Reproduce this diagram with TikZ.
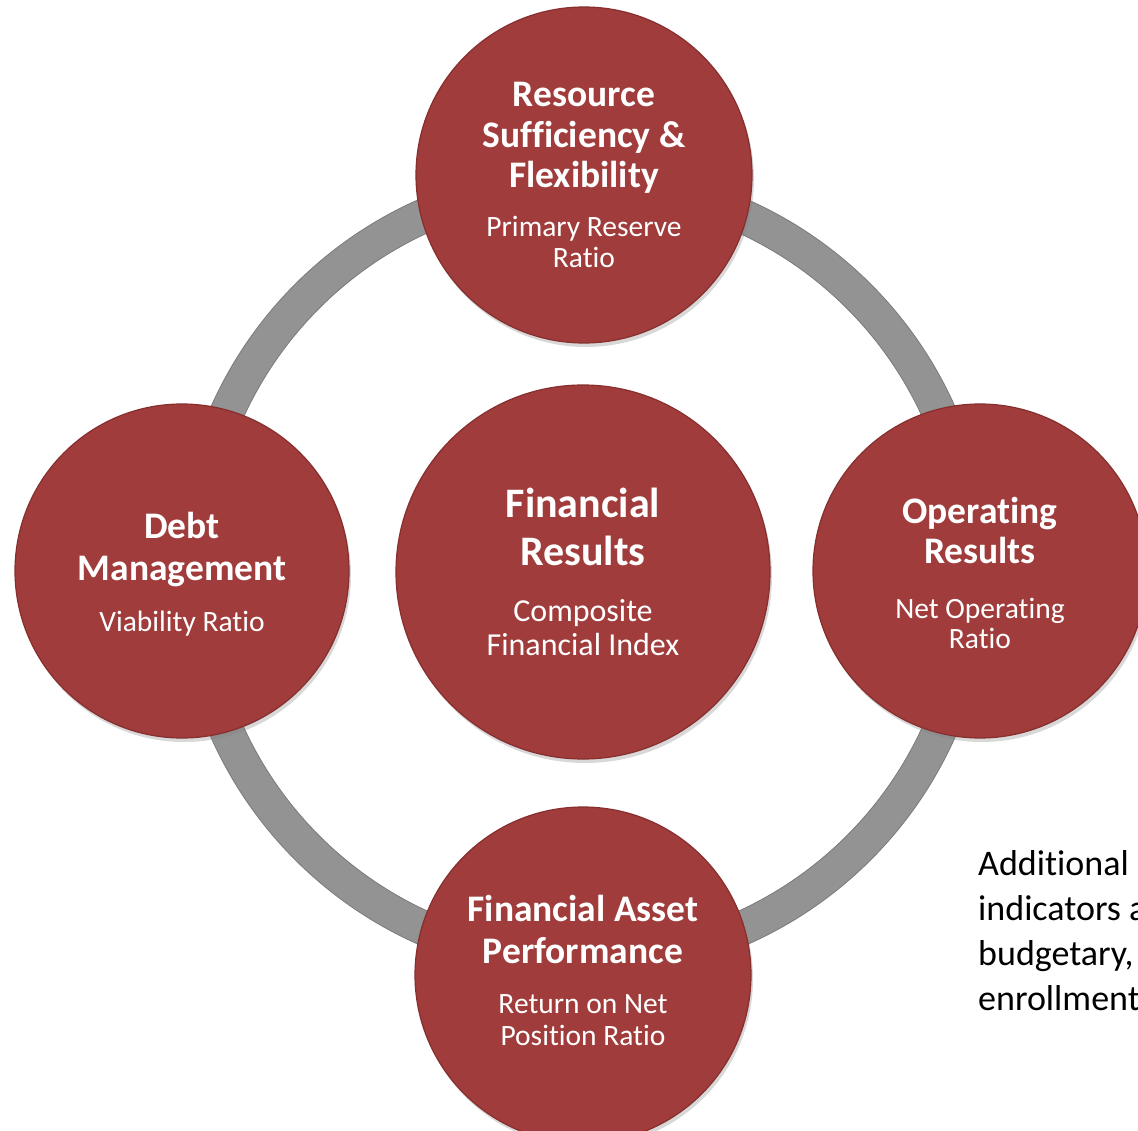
\documentclass[tikz,border=0pt]{standalone}
\usepackage{fontspec}
\setmainfont{Carlito}[Ligatures={CommonOff,RareOff,ContextualOff}]
\usetikzlibrary{shadows}
\definecolor{discfill}{HTML}{A03C3B}
\definecolor{discedge}{HTML}{862F2E}
\definecolor{ringfill}{HTML}{939393}
\definecolor{ringedge}{HTML}{7A7A7A}
\begin{document}
\begin{tikzpicture}[x=1pt,y=-1pt,
  disc/.style={circle, fill=discfill, draw=discedge, line width=1.2pt, inner sep=0pt, minimum size=#1,
    drop shadow={opacity=0.3, shadow xshift=2pt, shadow yshift=-4pt}},
  ttl/.style={anchor=base, inner sep=0pt, text=white, font=\bfseries\fontsize{37.5}{40}\selectfont},
  bigttl/.style={anchor=base, inner sep=0pt, text=white, font=\bfseries\fontsize{42}{48}\selectfont},
  sub/.style={anchor=base, inner sep=0pt, text=white, font=\fontsize{29.5}{32}\selectfont},
  bigsub/.style={anchor=base, inner sep=0pt, text=white, font=\fontsize{32}{34}\selectfont},
  note/.style={anchor=base west, inner sep=0pt, text=black, font=\fontsize{36}{45}\selectfont},
]
\useasboundingbox (0,0) rectangle (1138,1131);
\clip (0,0) rectangle (1138,1131);
\fill[white] (0,0) rectangle (1138,1131);

% ring
\coordinate (O) at (583,572);
\draw[ringfill, line width=34pt] (O) circle[radius=390];
\draw[ringedge, line width=0.8pt] (O) circle[radius=407];
\draw[ringedge, line width=0.8pt] (O) circle[radius=373];

% discs
\node[disc=336pt] (top) at (584,175) {};
\node[disc=334pt] (left) at (182,571) {};
\node[disc=334pt] (right) at (980,571) {};
\node[disc=336pt] (bottom) at (583,975) {};
\node[disc=374pt] (center) at (583,572) {};

% top
\node[ttl] (top-a) at (584,107) {Resource};
\node[ttl] (top-b) at (584,147.5) {Sufficiency \&};
\node[ttl] (top-c) at (584,188) {Flexibility};
\node[sub] (top-d) at (584,237) {Primary Reserve};
\node[sub] (top-e) at (584,268) {Ratio};

% left
\node[ttl] (left-a) at (182,538) {Debt};
\node[ttl] (left-b) at (182,580) {Management};
\node[sub] (left-c) at (182,631.5) {Viability Ratio};

% right
\node[ttl] (right-a) at (980,523) {Operating};
\node[ttl] (right-b) at (980,563) {Results};
\node[sub] (right-c) at (980,618) {Net Operating};
\node[sub] (right-d) at (980,648) {Ratio};

% bottom
\node[ttl] (bottom-a) at (583,921.5) {Financial Asset};
\node[ttl] (bottom-b) at (583,963) {Performance};
\node[sub] (bottom-c) at (583,1013) {Return on Net};
\node[sub] (bottom-d) at (583,1045) {Position Ratio};

% center
\node[bigttl] (center-a) at (583,517) {Financial};
\node[bigttl] (center-b) at (583,565) {Results};
\node[bigsub] (center-c) at (583,621.5) {Composite};
\node[bigsub] (center-d) at (583,655) {Financial Index};

% note
\node[note] (note-a) at (978,875) {Additional};
\node[note] (note-b) at (978,920) {indicators a};
\node[note] (note-c) at (978,965) {budgetary,};
\node[note] (note-d) at (978,1010) {enrollment};
\end{tikzpicture}
\end{document}
